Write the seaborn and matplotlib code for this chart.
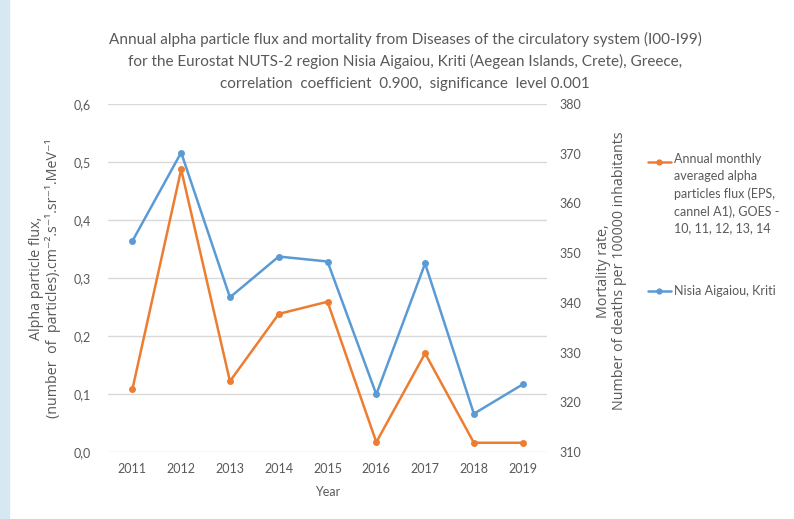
import matplotlib
matplotlib.use("Agg")
import matplotlib.pyplot as plt
import seaborn as sns
import pandas as pd
from matplotlib.lines import Line2D
from matplotlib.patches import Rectangle

# data
years = ["2011", "2012", "2013", "2014", "2015", "2016", "2017", "2018", "2019"]
alpha_flux = [0.108, 0.487, 0.122, 0.238, 0.259, 0.017, 0.170, 0.016, 0.016]
mortality = [352.4, 370.2, 341.1, 349.3, 348.3, 321.6, 347.9, 317.7, 323.6]
left_ticks = [0.0, 0.1, 0.2, 0.3, 0.4, 0.5, 0.6]
right_ticks = [310, 320, 330, 340, 350, 360, 370, 380]

orange = "#ED7D31"
blue = "#5B9BD5"
grey = "#595959"

df = pd.DataFrame({"year": years, "flux": alpha_flux, "mort": mortality})

sns.set_style("white")
plt.rcParams["font.family"] = ["Lato", "DejaVu Sans"]

fig = plt.figure(figsize=(7.94, 5.19), dpi=100)
ax = fig.add_axes([0.136, 0.129, 0.553, 0.671])
ax2 = ax.twinx()

# light blue strip on the left edge
fig.patches.append(Rectangle((0, 0), 0.011, 1, transform=fig.transFigure,
                             color="#D6E9F2", zorder=0))

for a in (ax, ax2):
    for s in a.spines.values():
        s.set_visible(False)

ax.set_ylim(0, 0.6)
ax.set_yticks(left_ticks)
ax.set_yticklabels([f"{t:.1f}".replace(".", ",") for t in left_ticks])
ax.grid(axis="y", color="#D9D9D9", linewidth=1)
ax.set_axisbelow(True)

ax2.set_ylim(310, 380)
ax2.set_yticks(right_ticks)

sns.lineplot(data=df, x="year", y="flux", ax=ax, color=orange, linewidth=1.8,
             marker="o", markersize=5, markeredgewidth=0, sort=False)
sns.lineplot(data=df, x="year", y="mort", ax=ax2, color=blue, linewidth=1.8,
             marker="o", markersize=5, markeredgewidth=0, sort=False)
ax.set_xlim(-0.5, len(years) - 0.5)

for a in (ax, ax2):
    a.tick_params(axis="both", length=0, labelsize=9, labelcolor=grey)
ax.tick_params(axis="y", pad=12)
ax2.tick_params(axis="y", pad=9)
ax.tick_params(axis="x", pad=8)

lab_font = ["Open Sans", "DejaVu Sans"]
ax.set_xlabel("Year", fontsize=9, color=grey, labelpad=8)
ax.set_ylabel("Alpha particle flux,\n(number  of  particles).cm\u207b\u00b2.s\u207b\u00b9.sr\u207b\u00b9.MeV\u207b\u00b9",
              fontsize=10.3, color=grey, linespacing=1.05, family=lab_font)
ax.yaxis.set_label_coords(-0.108, 0.5)
ax2.set_ylabel("Mortality rate,\nNumber of deaths per 100000 inhabitants",
               fontsize=10.3, color=grey, linespacing=1.05, family=lab_font)
ax2.yaxis.set_label_coords(1.112, 0.52)

fig.text(0.51, 1 - 61 / 519,
         "Annual alpha particle flux and mortality from Diseases of the circulatory system (I00-I99)\n"
         "for the Eurostat NUTS-2 region Nisia Aigaiou, Kriti (Aegean Islands, Crete), Greece,\n"
         "correlation  coefficient  0.900,  significance  level 0.001",
         ha="center", va="center", fontsize=11, color=grey, linespacing=1.65)

# legend drawn by hand so the marker sits on the first text line
for ypix, col in ((162, orange), (291, blue)):
    yf = 1 - ypix / 519
    fig.add_artist(Line2D([0.816, 0.845], [yf, yf], color=col, linewidth=1.8))
    fig.add_artist(Line2D([0.8305], [yf], color=col, marker="o",
                          markersize=4.5, markeredgewidth=0))
fig.text(0.849, 1 - 153 / 519,
         "Annual monthly\naveraged alpha\nparticles flux (EPS,\ncannel A1), GOES -\n10, 11, 12, 13, 14",
         ha="left", va="top", fontsize=9, color=grey, linespacing=1.5)
fig.text(0.849, 1 - 291 / 519, "Nisia Aigaiou, Kriti", ha="left", va="center",
         fontsize=9, color=grey)

fig.savefig("out.png", dpi=100)
